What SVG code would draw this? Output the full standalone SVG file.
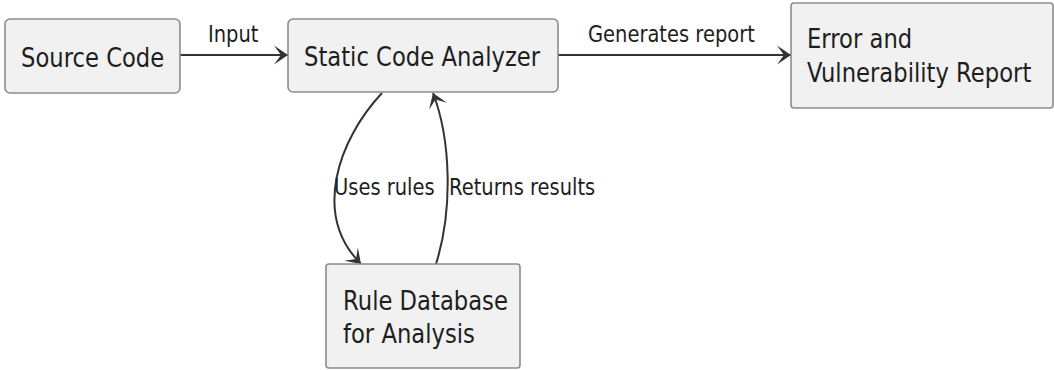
<svg xmlns="http://www.w3.org/2000/svg" width="1054" height="370" viewBox="0 0 1054 370">
  <style>
    .box { fill: #f1f1f1; stroke: #8c8c8c; stroke-width: 1.6; }
    .node-text { font-family: "DejaVu Sans", "Liberation Sans", sans-serif; font-size: 22.7px; fill: #1e1e1e; }
    .edge-text { font-family: "DejaVu Sans", "Liberation Sans", sans-serif; font-size: 19.5px; fill: #1e1e1e; }
    .edge { fill: none; stroke: #333; stroke-width: 2; }
  </style>
  <defs>
    <marker id="arrow" viewBox="-16 -11 18 22" refX="0" refY="0" markerWidth="18" markerHeight="22" markerUnits="userSpaceOnUse" orient="auto">
      <path d="M0,0 L-14,-9.5 L-7,0 L-14,9.5 Z" fill="#333"/>
    </marker>
  </defs>

  <rect width="1054" height="370" fill="#ffffff"/>

  <g id="connectors">
    <path class="edge" d="M180,55 L288,55" marker-end="url(#arrow)"/>
    <path class="edge" d="M558,55 L791,55" marker-end="url(#arrow)"/>
    <path class="edge" d="M382,93 C338,140 312,215 361,264" marker-end="url(#arrow)"/>
    <path class="edge" d="M436,264 C453,210 451,140 433,93" marker-end="url(#arrow)"/>
    <text class="edge-text" transform="translate(208 42) scale(1 1.2)">Input</text>
    <text class="edge-text" transform="translate(588 42) scale(1 1.2)">Generates report</text>
    <text class="edge-text" transform="translate(334 195) scale(1 1.2)">Uses rules</text>
    <text class="edge-text" transform="translate(449 195) scale(1 1.2)">Returns results</text>
  </g>

  <g id="source-code">
    <rect class="box" x="5" y="19" width="175" height="74" rx="5"/>
    <text class="node-text" transform="translate(21 67) scale(1 1.2)">Source Code</text>
  </g>

  <g id="static-code-analyzer">
    <rect class="box" x="288" y="19" width="270" height="73" rx="5"/>
    <text class="node-text" transform="translate(304 66) scale(1 1.2)">Static Code Analyzer</text>
  </g>

  <g id="error-report">
    <rect class="box" x="791" y="3" width="262" height="105" rx="3"/>
    <text class="node-text" transform="translate(807 48) scale(1 1.2)">Error and</text>
    <text class="node-text" transform="translate(807 82) scale(1 1.2)">Vulnerability Report</text>
  </g>

  <g id="rule-database">
    <rect class="box" x="326" y="264" width="194" height="104" rx="3"/>
    <text class="node-text" transform="translate(343 310) scale(1 1.2)">Rule Database</text>
    <text class="node-text" transform="translate(343 343) scale(1 1.2)">for Analysis</text>
  </g>
</svg>
